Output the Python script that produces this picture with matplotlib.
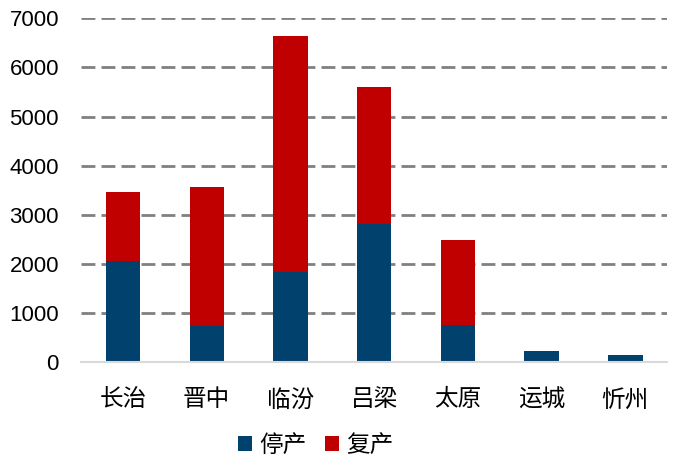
import matplotlib
matplotlib.use('Agg')
import matplotlib.pyplot as plt
import numpy as np

plt.rcParams['font.family'] = ['Noto Sans CJK SC', 'DejaVu Sans']

cities = ['长治', '晋中', '临汾', '吕梁', '太原', '运城', '忻州']
stopped = [2067, 734, 1829, 2814, 761, 224, 150]      # 停产
resumed = [1386, 2821, 4820, 2794, 1734, 0, 0]        # 复产
yticks = [0, 1000, 2000, 3000, 4000, 5000, 6000, 7000]

fig = plt.figure(figsize=(6.76, 4.69), dpi=100)
ax = fig.add_axes([0.12, 0.228, 0.867, 0.733])

x = np.arange(len(cities))
ax.bar(x, stopped, width=0.41, color='#00416E', label='停产', zorder=3)
ax.bar(x, resumed, width=0.41, bottom=stopped, color='#C00000', label='复产', zorder=3)

ax.set_xlim(-0.5, len(cities) - 0.5)
ax.set_ylim(0, 7000)
ax.set_yticks(yticks)
ax.set_yticklabels([str(v) for v in yticks], fontsize=16, family=['Liberation Sans', 'DejaVu Sans'])
ax.set_xticks(x)
ax.set_xticklabels(cities, fontsize=17)
ax.tick_params(length=0)
ax.tick_params(axis='x', pad=19)
ax.tick_params(axis='y', pad=16)

ax.yaxis.grid(True, color='#808080', linestyle=(0, (5, 2.2)), linewidth=2, zorder=0)
for s in ['top', 'right', 'left']:
    ax.spines[s].set_visible(False)
ax.spines['bottom'].set_color('#D9D9D9')
ax.spines['bottom'].set_linewidth(1.5)
ax.spines['bottom'].set_zorder(4)

ax.legend(loc='upper center', bbox_to_anchor=(0.40, -0.148), ncol=2, frameon=False,
          fontsize=17, handlelength=0.6, handleheight=0.6, handletextpad=0.3,
          columnspacing=0.8)

fig.savefig('out.png', dpi=100)
